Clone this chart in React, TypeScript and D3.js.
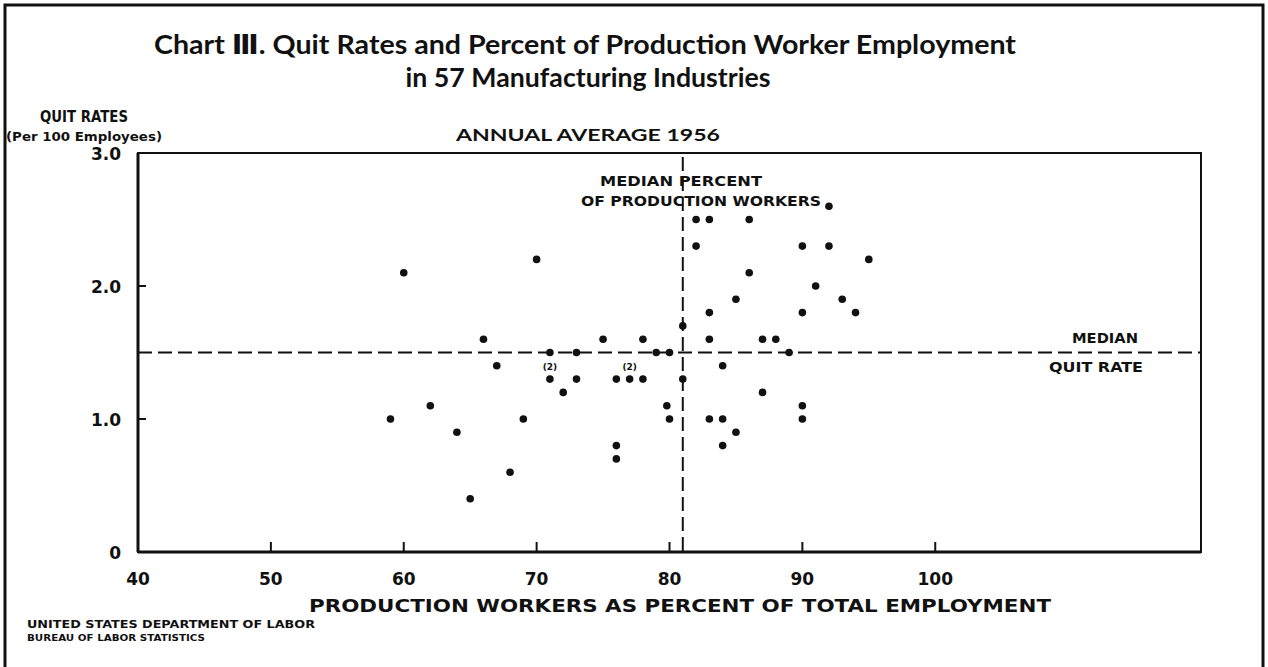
import React from 'react';
import * as d3 from 'd3';

// percent of production workers (x) and quit rate per 100 employees (y), one dot per industry group
const prodPct = [
  59, 60, 62, 64, 65, 66, 67, 68, 69, 70,
  71, 71, 72, 73, 73, 75, 76, 76, 76, 77,
  78, 78, 79, 80, 79.8, 80, 81, 81,
  82, 83, 82, 86, 92, 90, 92, 95, 86, 91,
  85, 93, 90, 94, 83, 83, 87, 88, 89, 84,
  87, 90, 90, 83, 84, 85, 84,
];
const quitRate = [
  1.0, 2.1, 1.1, 0.9, 0.4, 1.6, 1.4, 0.6, 1.0, 2.2,
  1.5, 1.3, 1.2, 1.5, 1.3, 1.6, 1.3, 0.8, 0.7, 1.3,
  1.3, 1.6, 1.5, 1.5, 1.1, 1.0, 1.7, 1.3,
  2.5, 2.5, 2.3, 2.5, 2.6, 2.3, 2.3, 2.2, 2.1, 2.0,
  1.9, 1.9, 1.8, 1.8, 1.8, 1.6, 1.6, 1.6, 1.5, 1.4,
  1.2, 1.1, 1.0, 1.0, 1.0, 0.9, 0.8,
];
// dots that stand for two industries
const doubles = [[71, 1.3], [77, 1.3]];

const xTicks = [40, 50, 60, 70, 80, 90, 100];
const yTicks = [0, 1, 2, 3];
const yTickLabels = ['0', '1.0', '2.0', '3.0'];

const medianPct = 81;
const medianQuit = 1.5;

const W = 1268;
const H = 667;

const App: React.FC = () => {
  const margin = { left: 138, right: 1201, top: 153, bottom: 552 };
  const x = d3.scaleLinear().domain([40, 120]).range([margin.left, margin.right]);
  const y = d3.scaleLinear().domain([0, 3]).range([margin.bottom, margin.top]);

  const title = 'Lato, "DejaVu Sans", sans-serif';
  const heavy = '"DejaVu Sans", Lato, sans-serif';

  return (
    <svg width={W} height={H} style={{ position: 'absolute', left: 0, top: 0, background: '#fff' }}>
      {/* outer frame */}
      <path d={`M5,${H} V5 H1263 V${H}`} fill="none" stroke="#111" strokeWidth={3} />

      {/* titles */}
      <text x={585} y={54} textAnchor="middle" fontFamily={title} fontWeight="bold" fontSize={26} fill="#111"
        textLength={862} lengthAdjust="spacingAndGlyphs">
        Chart Ⅲ.  Quit Rates and Percent of Production Worker Employment
      </text>
      <text x={588} y={87} textAnchor="middle" fontFamily={title} fontWeight="bold" fontSize={26} fill="#111"
        textLength={365} lengthAdjust="spacingAndGlyphs">
        in 57 Manufacturing Industries
      </text>
      <text x={588} y={141} textAnchor="middle" fontFamily={title} fontWeight="bold" fontSize={17} fill="#111"
        textLength={264} lengthAdjust="spacingAndGlyphs">
        ANNUAL AVERAGE   1956
      </text>

      <text x={84} y={122} textAnchor="middle" fontFamily={heavy} fontWeight="bold" fontSize={16} fill="#111"
        textLength={88} lengthAdjust="spacingAndGlyphs">QUIT RATES</text>
      <text x={84} y={141} textAnchor="middle" fontFamily={heavy} fontWeight="bold" fontSize={12} fill="#111"
        textLength={156} lengthAdjust="spacingAndGlyphs">(Per 100 Employees)</text>

      {/* plot box */}
      <rect x={margin.left} y={margin.top} width={margin.right - margin.left} height={margin.bottom - margin.top}
        fill="none" stroke="#111" strokeWidth={2} />
      <line x1={margin.left} x2={margin.left} y1={margin.top} y2={margin.bottom} stroke="#111" strokeWidth={3} />
      <line x1={margin.left} x2={margin.right} y1={margin.bottom} y2={margin.bottom} stroke="#111" strokeWidth={3} />

      {/* y ticks */}
      {yTicks.map((t, i) => (
        <g key={`y${t}`}>
          {t > 0 && t < 3 && (
            <line x1={margin.left} x2={margin.left + 8} y1={y(t)} y2={y(t)} stroke="#111" strokeWidth={2} />
          )}
          <text x={121} y={y(t) + 7} textAnchor="end" fontFamily={heavy} fontWeight="bold" fontSize={17} fill="#111">
            {yTickLabels[i]}
          </text>
        </g>
      ))}

      {/* x ticks */}
      {xTicks.map((t) => (
        <g key={`x${t}`}>
          {t > 40 && (
            <line x1={x(t)} x2={x(t)} y1={margin.bottom} y2={margin.bottom - 10} stroke="#111" strokeWidth={2} />
          )}
          <text x={x(t)} y={585} textAnchor="middle" fontFamily={heavy} fontWeight="bold" fontSize={17} fill="#111">
            {t}
          </text>
        </g>
      ))}

      {/* medians */}
      <line x1={x(medianPct)} x2={x(medianPct)} y1={margin.top + 4} y2={margin.bottom} stroke="#111"
        strokeWidth={2} strokeDasharray="14 6" />
      <line x1={margin.left} x2={margin.right} y1={y(medianQuit)} y2={y(medianQuit)} stroke="#111"
        strokeWidth={2} strokeDasharray="14 6" />

      <text x={681} y={186} textAnchor="middle" fontFamily={heavy} fontWeight="bold" fontSize={14} fill="#111"
        textLength={162} lengthAdjust="spacingAndGlyphs">MEDIAN PERCENT</text>
      <text x={701} y={206} textAnchor="middle" fontFamily={heavy} fontWeight="bold" fontSize={14} fill="#111"
        textLength={240} lengthAdjust="spacingAndGlyphs">OF PRODUCTION WORKERS</text>

      <text x={1105} y={343} textAnchor="middle" fontFamily={heavy} fontWeight="bold" fontSize={14} fill="#111"
        textLength={66} lengthAdjust="spacingAndGlyphs">MEDIAN</text>
      <text x={1096} y={372} textAnchor="middle" fontFamily={heavy} fontWeight="bold" fontSize={14} fill="#111"
        textLength={94} lengthAdjust="spacingAndGlyphs">QUIT RATE</text>

      {/* dots */}
      {prodPct.map((p, i) => (
        <circle key={i} cx={x(p)} cy={y(quitRate[i])} r={3.8} fill="#111" />
      ))}
      {doubles.map(([p, q]) => (
        <text key={`d${p}`} x={x(p)} y={y(q) - 9} textAnchor="middle" fontFamily={heavy} fontWeight="bold"
          fontSize={9} fill="#111">(2)</text>
      ))}

      {/* x axis title */}
      <text x={680} y={612} textAnchor="middle" fontFamily={heavy} fontWeight="bold" fontSize={17} fill="#111"
        textLength={742} lengthAdjust="spacingAndGlyphs">
        PRODUCTION WORKERS AS PERCENT OF TOTAL EMPLOYMENT
      </text>

      {/* source */}
      <text x={27} y={628} fontFamily={heavy} fontWeight="bold" fontSize={11} fill="#111"
        textLength={288} lengthAdjust="spacingAndGlyphs">UNITED STATES DEPARTMENT OF LABOR</text>
      <text x={27} y={641} fontFamily={heavy} fontWeight="bold" fontSize={9} fill="#111"
        textLength={178} lengthAdjust="spacingAndGlyphs">BUREAU OF LABOR STATISTICS</text>
    </svg>
  );
};

export default App;
